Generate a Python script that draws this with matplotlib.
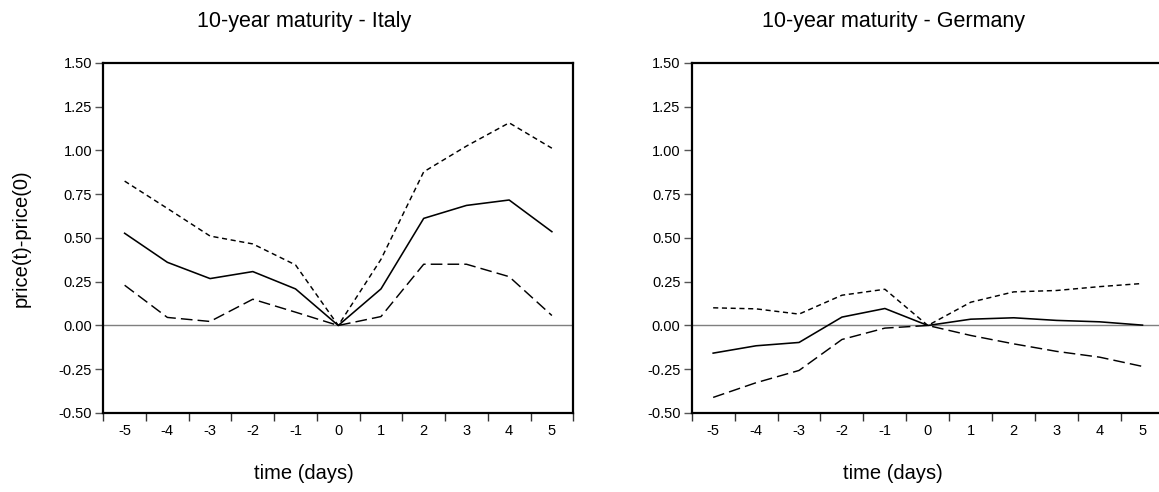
import matplotlib
matplotlib.use("Agg")
from matplotlib import pyplot as plt
from matplotlib.ticker import FixedLocator
import numpy as np

plt.rcParams['font.family'] = ['Liberation Sans', 'DejaVu Sans']

days = [-5, -4, -3, -2, -1, 0, 1, 2, 3, 4, 5]

# Italy, 10-year bond: mean price change and upper/lower bands
italy_mean = [0.527, 0.361, 0.268, 0.308, 0.209, 0.0, 0.209, 0.612, 0.686, 0.717, 0.536]
italy_upper = [0.825, 0.669, 0.511, 0.466, 0.346, 0.0, 0.378, 0.878, 1.025, 1.158, 1.013]
italy_lower = [0.230, 0.046, 0.023, 0.150, 0.076, 0.0, 0.051, 0.350, 0.350, 0.279, 0.057]

# Germany, 10-year bond
germany_mean = [-0.158, -0.116, -0.097, 0.048, 0.097, 0.0, 0.036, 0.044, 0.029, 0.021, 0.002]
germany_upper = [0.101, 0.095, 0.065, 0.173, 0.207, 0.0, 0.133, 0.192, 0.200, 0.222, 0.240]
germany_lower = [-0.411, -0.327, -0.257, -0.080, -0.015, 0.0, -0.057, -0.105, -0.148, -0.181, -0.234]

titles = ["10-year maturity - Italy", "10-year maturity - Germany"]
yticks = [-0.50, -0.25, 0.00, 0.25, 0.50, 0.75, 1.00, 1.25, 1.50]

fig = plt.figure(figsize=(11.59, 4.92), dpi=100)
ax1 = fig.add_axes([0.0891, 0.1606, 0.4055, 0.7114])
# second panel runs slightly past the right edge of the canvas
ax2 = fig.add_axes([0.5968, 0.1606, 0.4075, 0.7114])


def panel(ax, mean, upper, lower, title, ylabel):
    ax.axhline(0, color='#7f7f7f', lw=1.0, zorder=1)
    ax.plot(days, mean, color='black', lw=1.15, ls='-')
    ax.plot(days, upper, color='black', lw=1.05, ls=(0, (3.5, 2.5)))
    ax.plot(days, lower, color='black', lw=1.05, ls=(0, (8, 3.5)))

    ax.set_xlim(-5.5, 5.5)
    ax.set_ylim(-0.5, 1.5)
    ax.set_yticks(yticks)
    ax.set_yticklabels(['%.2f' % v for v in yticks])
    ax.set_xticks(days)
    ax.set_xticklabels([str(d) for d in days])
    ax.xaxis.set_minor_locator(FixedLocator(np.arange(-5.5, 6.0, 1.0)))

    ax.tick_params(axis='x', which='major', length=0, pad=8, labelsize=10.5)
    ax.tick_params(axis='x', which='minor', direction='out', length=6,
                   width=1.0, color='#333333')
    ax.tick_params(axis='y', direction='out', length=6, width=1.0,
                   color='#555555', pad=2, labelsize=10.5)
    for s in ax.spines.values():
        s.set_linewidth(1.6)
        s.set_color('black')

    ax.text(0.427, 1.119, title, transform=ax.transAxes, ha='center',
            va='center', fontsize=15.5)
    ax.set_xlabel("time (days)", fontsize=14.5)
    ax.xaxis.set_label_coords(0.427, -0.174)
    ax.xaxis.label.set_va('center')
    if ylabel:
        ax.set_ylabel(ylabel, fontsize=14.5)
        ax.yaxis.set_label_coords(-0.175, 0.5)
        ax.yaxis.label.set_va('center')


panel(ax1, italy_mean, italy_upper, italy_lower, titles[0], "price(t)-price(0)")
panel(ax2, germany_mean, germany_upper, germany_lower, titles[1], None)

plt.savefig("out.png", dpi=100)
